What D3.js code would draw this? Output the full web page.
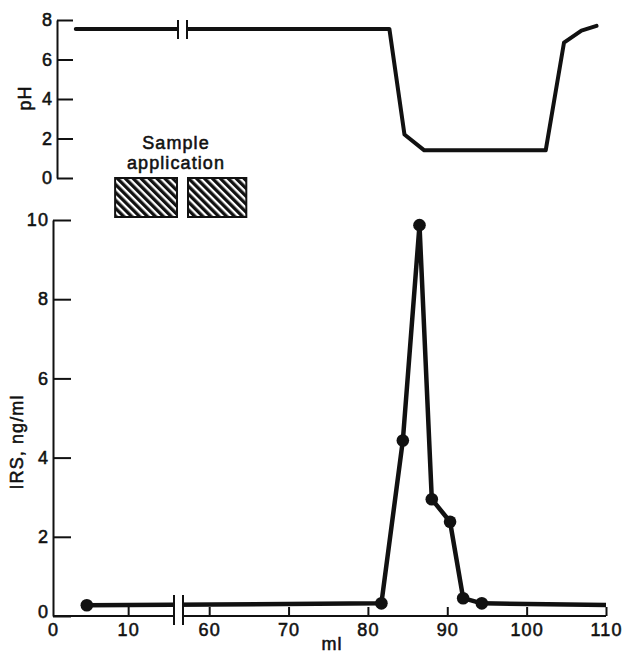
<!DOCTYPE html>
<html>
<head>
<meta charset="utf-8">
<script src="https://cdn.jsdelivr.net/npm/d3@7"></script>
<style>
  html, body { margin: 0; padding: 0; background: #fff; }
  svg { display: block; }
  text { font-family: "Liberation Sans", Arial, sans-serif; fill: #111; }
</style>
</head>
<body>
<svg id="chart" width="626" height="656"></svg>
<script>
// ---- data ----
const xDomain = [0, 16.1, 56.7, 110];          // ml axis, broken between 16.1 and 56.7
const xBreak = [16.1, 56.7];
const xTicks = [0, 10, 60, 70, 80, 90, 100, 110];
const irsTicks = [0, 2, 4, 6, 8, 10];
const phTicks = [0, 2, 4, 6, 8];

const irsMl    = [4.5, 81.7, 84.4, 86.5, 88.05, 90.35, 92.0, 94.35, 110];
const irsValue = [0.27, 0.32, 4.43, 9.87, 2.95, 2.38, 0.45, 0.32, 0.28];
const irsMarked = [true, true, true, true, true, true, true, true, false];

const phMl    = [2.5, 82.2, 84.1, 86.6, 101.9, 104.2, 106.4, 108.3];
const phValue = [7.55, 7.55, 2.2, 1.4, 1.4, 6.85, 7.46, 7.7];

const sampleApplication = [7.6, 64.3];
const labels = { x: "ml", irs: "IRS, ng/ml", ph: "pH", sample: ["Sample", "application"] };

// ---- layout ----
const svg = d3.select("#chart");
const W = 626, H = 656;
const xRange = [53, 174, 183, 606];
const topShift = 4;

const x = d3.scaleLinear().domain(xDomain).range(xRange);
const xTop = d3.scaleLinear().domain(xDomain).range(xRange.map(r => r + topShift));
const yIrs = d3.scaleLinear().domain([0, 10]).range([616, 220]);
const yPh = d3.scaleLinear().domain([0, 8]).range([178, 20]);

const font = { size: 18, spacing: 1.1 };
const ink = "#111";

// hatch pattern
const defs = svg.append("defs");
const pat = defs.append("pattern")
  .attr("id", "hatch").attr("patternUnits", "userSpaceOnUse")
  .attr("width", 5.6).attr("height", 10)
  .attr("patternTransform", "rotate(-45)");
pat.append("rect").attr("width", 5.6).attr("height", 10).attr("fill", "#fff");
pat.append("rect").attr("width", 3.3).attr("height", 10).attr("fill", ink);

// clip paths removing the break gap
function gapClip(id, sc) {
  const cp = defs.append("clipPath").attr("id", id);
  cp.append("rect").attr("x", 0).attr("y", 0).attr("width", sc(xBreak[0])).attr("height", H);
  cp.append("rect").attr("x", sc(xBreak[1])).attr("y", 0).attr("width", W - sc(xBreak[1])).attr("height", H);
}
gapClip("gapBottom", x);
gapClip("gapTop", xTop);

function styleText(sel) {
  sel.style("font-size", font.size + "px").style("letter-spacing", font.spacing + "px")
    .attr("fill", ink).attr("stroke", ink).attr("stroke-width", 0.55);
}

// ---- bottom panel: IRS ----
const gB = svg.append("g");

// y axis
const yAxisB = gB.append("g").attr("transform", `translate(${x(0)},0)`)
  .call(d3.axisLeft(yIrs).tickValues(irsTicks).tickSizeInner(-18).tickSizeOuter(0).tickPadding(4).tickFormat(d3.format("d")));
yAxisB.selectAll("path, line").attr("stroke", ink).attr("stroke-width", 2);
yAxisB.selectAll("text").call(styleText).attr("font-family", null);
yAxisB.select(".tick text").attr("dy", "0.1em");

// x axis
const xAxisB = gB.append("g").attr("transform", `translate(0,${yIrs(0)})`)
  .call(d3.axisBottom(x).tickValues(xTicks).tickSizeInner(-9).tickSizeOuter(0).tickPadding(7).tickFormat(d3.format("d")));
xAxisB.select(".domain").remove();
xAxisB.selectAll("line").attr("stroke", ink).attr("stroke-width", 2);
xAxisB.selectAll("text").call(styleText).attr("font-family", null);
xAxisB.selectAll(".tick").filter(d => d === 0).select("line").remove();

// broken x-axis line
gB.append("path")
  .attr("d", `M${x(0)},${yIrs(0)}H${x(xBreak[0])}M${x(xBreak[1])},${yIrs(0)}H${x(110)}`)
  .attr("stroke", ink).attr("stroke-width", 2).attr("fill", "none");

// IRS line
const irsData = irsMl.map((m, i) => ({ ml: m, v: irsValue[i], marked: irsMarked[i] }));
const line = d3.line().x(d => x(d.ml)).y(d => yIrs(d.v));
gB.append("path").datum(irsData)
  .attr("d", line)
  .attr("clip-path", "url(#gapBottom)")
  .attr("fill", "none").attr("stroke", ink).attr("stroke-width", 4.5)
  .attr("stroke-linejoin", "round");
gB.selectAll("circle.irs").data(irsData.filter(d => d.marked)).join("circle")
  .attr("class", "irs")
  .attr("cx", d => x(d.ml)).attr("cy", d => yIrs(d.v)).attr("r", 6.3)
  .attr("fill", ink);

// break marks bottom
[xBreak[0], xBreak[1]].forEach(b => {
  gB.append("line").attr("x1", x(b)).attr("x2", x(b)).attr("y1", 595).attr("y2", 625)
    .attr("stroke", ink).attr("stroke-width", 2);
});

// axis titles
gB.append("text").text(labels.x).call(styleText)
  .attr("x", 332).attr("y", 650).attr("text-anchor", "middle");
gB.append("text").text(labels.irs).call(styleText)
  .attr("text-anchor", "middle")
  .attr("transform", `translate(23,442) rotate(-90)`);

// ---- top panel: pH ----
const gT = svg.append("g");
const yAxisT = gT.append("g").attr("transform", `translate(${xTop(0)},0)`)
  .call(d3.axisLeft(yPh).tickValues(phTicks).tickSizeInner(-16).tickSizeOuter(0).tickPadding(4).tickFormat(d3.format("d")));
yAxisT.selectAll("path, line").attr("stroke", ink).attr("stroke-width", 2);
yAxisT.selectAll("text").call(styleText).attr("font-family", null);

const phData = phMl.map((m, i) => ({ ml: m, v: phValue[i] }));
const phLine = d3.line().x(d => xTop(d.ml)).y(d => yPh(d.v));
gT.append("path").datum(phData)
  .attr("d", phLine)
  .attr("clip-path", "url(#gapTop)")
  .attr("fill", "none").attr("stroke", ink).attr("stroke-width", 4)
  .attr("stroke-linejoin", "round").attr("stroke-linecap", "round");

[xBreak[0], xBreak[1]].forEach(b => {
  gT.append("line").attr("x1", xTop(b)).attr("x2", xTop(b)).attr("y1", 20).attr("y2", 39)
    .attr("stroke", ink).attr("stroke-width", 2);
});

gT.append("text").text(labels.ph).call(styleText)
  .attr("text-anchor", "middle")
  .attr("transform", `translate(31,98) rotate(-90)`);

// sample application boxes
const boxTop = 177, boxBottom = 218;
const segs = [[sampleApplication[0], xBreak[0]], [xBreak[1], sampleApplication[1]]];
gT.selectAll("rect.sample").data(segs).join("rect")
  .attr("class", "sample")
  .attr("x", d => xTop(d[0]) + 1).attr("y", boxTop + 1)
  .attr("width", d => xTop(d[1]) - xTop(d[0]) - 2).attr("height", boxBottom - boxTop - 2)
  .attr("fill", "url(#hatch)").attr("stroke", ink).attr("stroke-width", 2);

gT.append("text").text(labels.sample[0]).call(styleText)
  .attr("x", 176).attr("y", 149).attr("text-anchor", "middle");
gT.append("text").text(labels.sample[1]).call(styleText)
  .attr("x", 176).attr("y", 169).attr("text-anchor", "middle");
</script>
</body>
</html>
